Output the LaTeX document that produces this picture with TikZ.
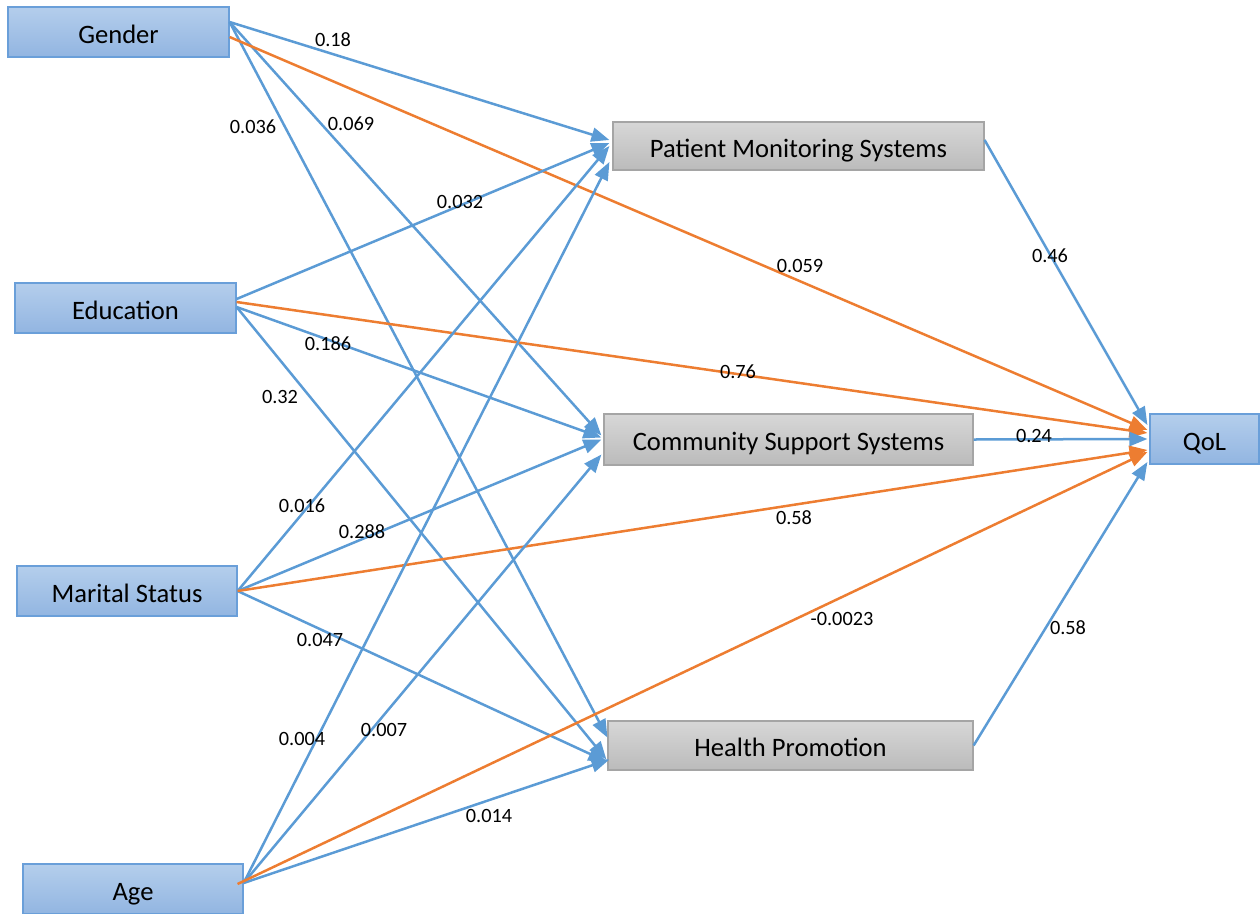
\documentclass[tikz,border=0pt]{standalone}
\usepackage{fontspec}
\setmainfont{Carlito}
\usetikzlibrary{arrows.meta}

\definecolor{linkblue}{HTML}{5B9BD5}
\definecolor{linkorange}{HTML}{ED7D31}
\definecolor{boxtop}{HTML}{B4CEEC}
\definecolor{boxbot}{HTML}{92B5E1}
\definecolor{boxline}{HTML}{6A9FD9}
\definecolor{graytop}{HTML}{D7D7D7}
\definecolor{graybot}{HTML}{BBBBBB}
\definecolor{grayline}{HTML}{A5A5A5}

\begin{document}
\begin{tikzpicture}[x=1pt,y=-1pt]
  \tikzset{factor/.style = {draw=boxline,line width=1.2pt,top color=boxtop,bottom color=boxbot,
      minimum width=221pt,minimum height=50pt,inner sep=0pt,text height=22pt,text depth=0pt,
      font=\fontsize{26.6}{30}\selectfont}}
  \tikzset{mediator/.style = {draw=grayline,line width=1.2pt,top color=graytop,bottom color=graybot,
      minimum height=49pt,inner sep=0pt,text height=22pt,text depth=0pt,
      font=\fontsize{26.6}{30}\selectfont}}
  \tikzset{effect/.style = {draw=linkblue,line width=2.5pt,-{Triangle[length=18pt,width=14pt]}}}
  \tikzset{direct/.style = {effect,draw=linkorange}}
  \tikzset{coef/.style = {inner sep=0pt,font=\fontsize{20.3}{24}\selectfont}}

  \useasboundingbox (0,0) rectangle (1260,913);

\node[factor] (gender)  at (118.5,32) {Gender};
\node[factor] (education)  at (125.5,308) {Education};
\node[factor,minimum width=220pt] (marital)  at (127,591) {Marital Status};
\node[factor,minimum width=220pt] (age)  at (133,889) {Age};

\node[mediator,minimum width=371pt,minimum height=48pt] (pms)  at (798.5,146) {Patient Monitoring Systems};
\node[mediator,minimum width=369pt,minimum height=51pt] (css)  at (788.5,439.5) {Community Support Systems};
\node[mediator,minimum width=365pt] (hp)  at (790.5,745.5) {Health Promotion};

\node[factor,minimum width=109pt] (qol)  at (1204.5,439) {QoL};

  % gender
    \path ([yshift=10pt]gender.east) edge[effect] ([xshift=-3pt,yshift=6pt]pms.west);
    \path ([yshift=10pt]gender.east) edge[effect] ([xshift=-2pt,yshift=4pt]css.west);
    \path ([yshift=10pt]gender.east) edge[effect] ([yshift=8pt]hp.west);
    \path ([yshift=-5pt]gender.east) edge[direct] ([xshift=-2pt,yshift=9pt]qol.west);

  % education
    \path ([yshift=9pt]education.east) edge[effect] ([xshift=-3pt,yshift=3pt]pms.west);
    \path ([yshift=1pt]education.east) edge[effect] ([xshift=-2pt,yshift=2pt]css.west);
    \path ([yshift=1pt]education.east) edge[effect] ([xshift=-1pt,yshift=-14pt]hp.west);
    \path ([yshift=6pt]education.east) edge[direct] ([xshift=-2pt,yshift=6pt]qol.west);

  % marital status
    \path (marital.east) edge[effect] ([xshift=-3pt]pms.west);
    \path (marital.east) edge[effect] ([xshift=-2pt]css.west);
    \path (marital.east) edge[effect] ([xshift=-1pt,yshift=-16pt]hp.west);
    \path (marital.east) edge[direct] ([xshift=-2pt,yshift=-11pt]qol.west);

  % age
    \path ([yshift=6pt]age.east) edge[effect] ([xshift=-3pt,yshift=-16pt]pms.west);
    \path ([yshift=6pt]age.east) edge[effect] ([xshift=-2pt,yshift=-15pt]css.west);
    \path ([yshift=6pt]age.east) edge[effect] ([xshift=2pt,yshift=-14pt]hp.west);
    \path ([xshift=-6pt,yshift=5pt]age.east) edge[direct] ([xshift=-2pt,yshift=-13pt]qol.west);

  % mediators to outcome
    \path ([yshift=6pt]pms.east) edge[effect] ([xshift=-2pt,yshift=14pt]qol.west);
    \path (css.east) edge[effect] ([xshift=-2pt]qol.west);
    \path (hp.east) edge[effect] ([xshift=-2pt,yshift=-23pt]qol.west);

  % coefficients
\node[coef] (c-g-pms) at (333,40) {0.18};
\node[coef] (c-g-hp) at (253,127) {0.036};
\node[coef] (c-g-css) at (351,124) {0.069};
\node[coef] (c-e-pms) at (460,202) {0.032};
\node[coef] (c-g-qol) at (800,266) {0.059};
\node[coef] (c-pms-qol) at (1050,256) {0.46};
\node[coef] (c-e-css) at (328,344) {0.186};
\node[coef] (c-e-hp) at (280,397) {0.32};
\node[coef] (c-e-qol) at (738,372) {0.76};
\node[coef] (c-css-qol) at (1034,436) {0.24};
\node[coef] (c-m-pms) at (302,506) {0.016};
\node[coef] (c-m-css) at (362,532) {0.288};
\node[coef] (c-m-qol) at (794,518) {0.58};
\node[coef] (c-m-hp) at (320,640) {0.047};
\node[coef] (c-a-qol) at (842,619) {-0.0023};
\node[coef] (c-hp-qol) at (1068,628) {0.58};
\node[coef] (c-a-pms) at (302,739) {0.004};
\node[coef] (c-a-css) at (384,730) {0.007};
\node[coef] (c-a-hp) at (489,816) {0.014};

\end{tikzpicture}
\end{document}
